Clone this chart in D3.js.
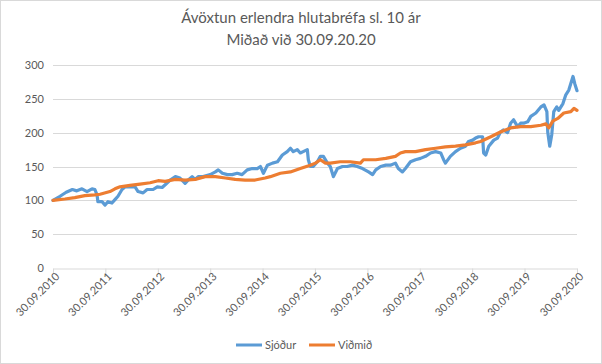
<!DOCTYPE html>
<html><head><meta charset="utf-8">
<script src="https://cdn.jsdelivr.net/npm/d3@7"></script>
<style>
html,body{margin:0;padding:0;background:#fff;}
svg{display:block;font-family:Lato,"Open Sans",sans-serif;}
</style></head>
<body>
<svg id="c" width="602" height="364"></svg>
<script>
const titleLines = ["Ávöxtun erlendra hlutabréfa sl. 10 ár", "Miðað við 30.09.20.20"];
const seriesNames = ["Sjóður", "Viðmið"];
const yTicks = [0, 50, 100, 150, 200, 250, 300];
const xTickLabels = ["30.09.2010","30.09.2011","30.09.2012","30.09.2013","30.09.2014","30.09.2015","30.09.2016","30.09.2017","30.09.2018","30.09.2019","30.09.2020"];

const fundDates = ["2010-09-30","2010-11-18","2010-12-31","2011-02-12","2011-03-15","2011-04-20","2011-05-25","2011-06-29","2011-07-19","2011-08-03","2011-08-09","2011-09-07","2011-09-28","2011-10-18","2011-11-15","2011-12-06","2011-12-27","2012-01-24","2012-02-15","2012-03-20","2012-04-24","2012-05-15","2012-06-19","2012-07-17","2012-08-07","2012-08-28","2012-09-26","2012-10-30","2012-11-20","2012-12-25","2013-01-30","2013-03-03","2013-04-08","2013-04-30","2013-05-27","2013-06-17","2013-07-08","2013-08-12","2013-09-30","2013-11-05","2013-11-25","2013-12-24","2014-01-28","2014-03-02","2014-04-06","2014-05-10","2014-06-15","2014-07-20","2014-08-24","2014-09-15","2014-10-06","2014-11-03","2014-12-08","2015-01-12","2015-02-15","2015-03-21","2015-04-12","2015-05-02","2015-05-30","2015-06-20","2015-07-10","2015-08-08","2015-08-15","2015-08-29","2015-09-18","2015-10-17","2015-11-07","2015-11-28","2015-12-26","2016-01-15","2016-02-06","2016-03-05","2016-04-09","2016-05-12","2016-06-18","2016-07-21","2016-08-27","2016-10-08","2016-11-05","2016-11-27","2016-12-31","2017-02-05","2017-03-09","2017-04-13","2017-05-03","2017-06-01","2017-06-22","2017-07-27","2017-08-31","2017-10-05","2017-11-09","2017-12-14","2018-01-18","2018-02-23","2018-03-15","2018-03-28","2018-05-01","2018-06-06","2018-07-11","2018-08-15","2018-09-05","2018-10-03","2018-10-24","2018-11-14","2018-12-12","2018-12-19","2019-01-03","2019-01-24","2019-02-28","2019-03-26","2019-04-15","2019-05-07","2019-06-04","2019-06-25","2019-07-16","2019-08-13","2019-09-03","2019-09-24","2019-10-22","2019-11-13","2019-12-18","2020-01-22","2020-02-13","2020-03-04","2020-03-10","2020-03-24","2020-04-07","2020-04-21","2020-05-12","2020-05-26","2020-06-24","2020-07-14","2020-08-04","2020-09-02","2020-09-15","2020-09-30"];
const fundValues = [100,106,112,116,114,117,113,117,116,108,98,98,93,98,96,101,106,116,120,120,120,113,111,116,116,116,120,119,123,130,135,133,125,130,135,131,135,135,138,142,145,140,138,138,140,138,145,147,147,150,140,152,155,157,167,172,177,172,175,170,172,175,160,150,150,157,165,165,155,150,135,147,150,150,152,150,147,142,138,145,150,152,152,155,147,142,147,157,160,162,165,170,172,170,160,155,165,172,177,180,187,189,192,194,194,170,167,180,189,192,201,204,200,214,219,209,214,214,216,224,229,238,241,231,201,180,197,231,238,233,243,256,263,283,272,262];

const benchDates = ["2010-09-30","2010-12-22","2011-03-01","2011-05-10","2011-07-19","2011-08-24","2011-11-01","2011-12-06","2012-01-10","2012-03-20","2012-05-29","2012-08-07","2012-10-02","2012-11-20","2013-01-30","2013-04-08","2013-06-17","2013-08-26","2013-11-05","2014-01-14","2014-03-23","2014-05-31","2014-08-09","2014-10-18","2014-11-23","2015-02-01","2015-04-12","2015-06-20","2015-08-29","2015-10-03","2015-11-07","2015-12-12","2016-01-15","2016-03-24","2016-06-02","2016-08-12","2016-09-02","2016-11-27","2017-02-05","2017-04-13","2017-05-18","2017-06-22","2017-08-31","2017-11-09","2018-01-18","2018-03-28","2018-06-06","2018-08-15","2018-10-24","2018-11-28","2019-02-07","2019-04-15","2019-06-25","2019-09-03","2019-11-13","2020-01-22","2020-02-26","2020-03-17","2020-04-14","2020-05-19","2020-06-30","2020-08-18","2020-09-09","2020-09-30"];
const benchValues = [100,102,104,107,108,109,113,117,120,122,124,126,129,128,131,130,131,135,135,133,131,130,130,133,135,140,142,147,152,155,160,155,155,157,157,155,160,160,162,165,170,172,172,175,177,179,180,182,185,187,194,201,207,209,209,211,213,207,217,221,229,231,236,233];

const colors = ["#5B9BD5", "#ED7D31"];
const parse = d3.timeParse("%Y-%m-%d");
const fund = fundDates.map((d, i) => ({ date: parse(d), value: fundValues[i] }));
const bench = benchDates.map((d, i) => ({ date: parse(d), value: benchValues[i] }));
const tickDates = xTickLabels.map(s => d3.timeParse("%d.%m.%Y")(s));

const svg = d3.select("#c");
const W = 602, H = 364;
const m = { left: 53, right: 25, top: 65, bottom: 96 };

svg.append("rect").attr("x", 0.5).attr("y", 0.5).attr("width", W - 1).attr("height", H - 1)
  .attr("fill", "#fff").attr("stroke", "#d9d9d9");

svg.selectAll("text.title").data(titleLines).join("text")
  .attr("class", "title")
  .attr("x", W / 2).attr("y", (d, i) => 23 + i * 22)
  .attr("text-anchor", "middle").attr("fill", "#595959")
  .style("font-size", "15px").text(d => d);

const x = d3.scaleTime().domain([tickDates[0], tickDates[tickDates.length - 1]]).range([m.left, W - m.right]);
const y = d3.scaleLinear().domain([0, 300]).range([H - m.bottom, m.top]);

// grid
svg.append("g").selectAll("line").data(yTicks.filter(t => t > 0)).join("line")
  .attr("x1", m.left).attr("x2", W - m.right)
  .attr("y1", d => Math.round(y(d)) + 0.5).attr("y2", d => Math.round(y(d)) + 0.5)
  .attr("stroke", "#d9d9d9").attr("stroke-width", 1);

// y axis
const yAxis = svg.append("g").attr("transform", `translate(${m.left},0)`)
  .call(d3.axisLeft(y).tickValues(yTicks).tickSize(0).tickPadding(9));
yAxis.select(".domain").remove();
yAxis.selectAll("text").attr("fill", "#595959").style("font-size", "11px").style("font-family", "Lato, 'Open Sans', sans-serif");

// x axis
const xAxis = svg.append("g").attr("transform", `translate(0,${Math.round(y(0)) + 0.5})`)
  .call(d3.axisBottom(x).tickValues(tickDates).tickFormat((d, i) => xTickLabels[i]).tickSize(5).tickSizeOuter(0));
xAxis.select(".domain").attr("stroke", "#d9d9d9");
xAxis.selectAll(".tick line").attr("stroke", "#d9d9d9");
xAxis.selectAll("text")
  .attr("fill", "#595959").style("font-size", "11px").style("font-family", "Lato, 'Open Sans', sans-serif")
  .attr("text-anchor", "end").attr("dy", "0.35em")
  .attr("transform", "translate(4,6) rotate(-45)").attr("y", 0).attr("x", 0);

const line = d3.line().x(d => x(d.date)).y(d => y(d.value));
[fund, bench].forEach((s, i) => {
  svg.append("path").datum(s).attr("d", line)
    .attr("fill", "none").attr("stroke", colors[i]).attr("stroke-width", 3.2)
    .attr("stroke-linejoin", "round").attr("stroke-linecap", "round");
});

// legend
const lg = svg.append("g").attr("transform", "translate(0,345)");
const legendX = [236, 309];
seriesNames.forEach((n, i) => {
  lg.append("line").attr("x1", legendX[i]).attr("x2", legendX[i] + 26).attr("y1", 0).attr("y2", 0)
    .attr("stroke", colors[i]).attr("stroke-width", 3);
  lg.append("text").attr("x", legendX[i] + 29).attr("y", 0).attr("dy", "0.35em")
    .attr("fill", "#595959").style("font-size", "11px").text(n);
});
</script>
</body></html>
